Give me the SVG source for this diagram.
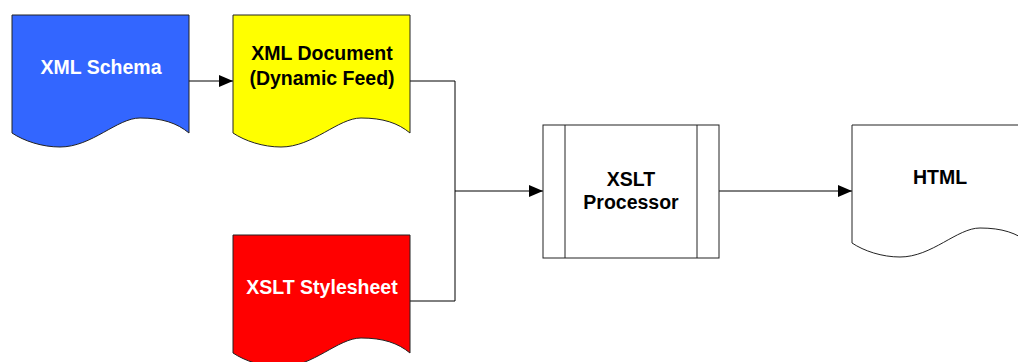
<svg xmlns="http://www.w3.org/2000/svg" width="1018" height="362" viewBox="0 0 1018 362">
<style>
.doc{stroke:#222;stroke-width:1}
.lbl{font-family:"Liberation Sans",Arial,sans-serif;font-weight:bold;font-size:19.5px;text-anchor:middle}
.conn{fill:none;stroke:#000;stroke-width:1}
</style>
<defs>
<marker id="ah" markerWidth="14" markerHeight="12" refX="14" refY="6" orient="auto" markerUnits="userSpaceOnUse">
<path d="M0,0 L14,6 L0,12 Z" fill="#000"/>
</marker>
<path id="docshape" d="M0,0 H177 V118 C165,108 150,103 128,103 C105,103 80,132 48,132 C30,132 12,126 0,118 Z"/>
</defs>
<rect width="1018" height="362" fill="#fff"/>
<g id="connectors">
<line class="conn" x1="189" y1="81" x2="233" y2="81" marker-end="url(#ah)"/>
<polyline class="conn" points="410,81 455,81 455,301 410,301"/>
<line class="conn" x1="455" y1="191" x2="543" y2="191" marker-end="url(#ah)"/>
<line class="conn" x1="719" y1="191" x2="852" y2="191" marker-end="url(#ah)"/>
</g>
<g id="xml-schema">
<use href="#docshape" x="12" y="15" class="doc" fill="#3366FF"/>
<text class="lbl" x="101" y="74" fill="#fff">XML Schema</text>
</g>
<g id="xml-document">
<use href="#docshape" x="233" y="15" class="doc" fill="#FFFF00"/>
<text class="lbl" x="322" y="60" fill="#000">XML Document</text>
<text class="lbl" x="322" y="85" fill="#000">(Dynamic Feed)</text>
</g>
<g id="xslt-stylesheet">
<use href="#docshape" x="233" y="235" class="doc" fill="#FF0000"/>
<text class="lbl" x="322" y="294" fill="#fff">XSLT Stylesheet</text>
</g>
<g id="xslt-processor">
<rect x="543" y="125" width="176" height="133" fill="#fff" stroke="#222" stroke-width="1"/>
<line x1="565" y1="125" x2="565" y2="258" stroke="#222" stroke-width="1"/>
<line x1="697" y1="125" x2="697" y2="258" stroke="#222" stroke-width="1"/>
<text class="lbl" x="631" y="186" fill="#000">XSLT</text>
<text class="lbl" x="631" y="209" fill="#000">Processor</text>
</g>
<g id="html">
<use href="#docshape" x="852" y="125" class="doc" fill="#fff"/>
<text class="lbl" x="940" y="184" fill="#000">HTML</text>
</g>
</svg>
